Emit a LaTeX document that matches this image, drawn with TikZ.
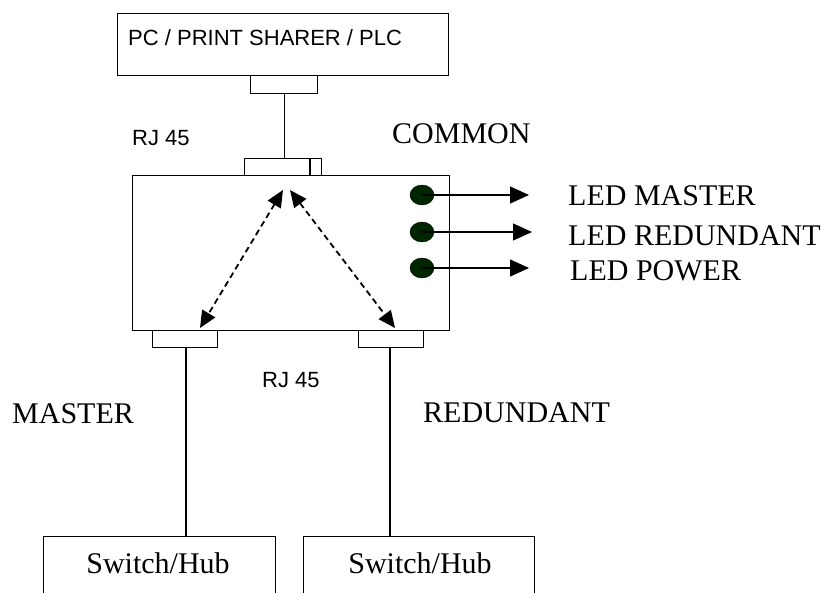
\documentclass[tikz,border=0pt]{standalone}
\usepackage{fontspec}
\setmainfont{Liberation Serif}
\newfontfamily\sansf{Liberation Sans}
\usetikzlibrary{arrows.meta,shapes.geometric}
\begin{document}
\begin{tikzpicture}[x=1pt,y=-1pt,
  box/.style={draw,line width=1.2pt,inner sep=0pt,anchor=north west},
  lbl/.style={inner sep=0pt,anchor=base west,font=\fontsize{30}{30}\selectfont},
  slbl/.style={inner sep=0pt,anchor=base west,font=\sansf\fontsize{22}{22}\selectfont},
  led/.style={ellipse,fill=black!85!green,draw=black,inner sep=0pt,minimum width=24pt,minimum height=20pt},
  ledarrow/.style={line width=1.2pt,-{Triangle[length=19pt,width=17pt]}},
  dasharrow/.style={line width=1.8pt,dash pattern=on 6pt off 4pt,{Triangle[length=17pt,width=15pt]}-{Triangle[length=17pt,width=15pt]}},
  wire/.style={line width=1.2pt}]
\useasboundingbox (0,0) rectangle (829,592);
\clip (0,0) rectangle (829,592);
\fill[white] (0,0) rectangle (829,592);
% top box
\node[box,minimum width=331pt,minimum height=62pt] (pc) at (117,13) {};
\node[slbl] (pctext) at (128,45) {PC / PRINT SHARER / PLC};
\node[box,minimum width=67pt,minimum height=18pt] (pcport) at (250,75) {};
% main box
\node[box,minimum width=317pt,minimum height=155pt] (main) at (132,175) {};
\node[box,minimum width=77pt,minimum height=17pt] (topport) at (244,158) {};
\draw[wire] (310,158) -- (310,175);
\draw[wire] (pcport.south) -- (topport.north -| pcport.south);
\node[slbl] (rj1) at (132,145) {RJ 45};
\node[lbl] (common) at (392,143) {COMMON};
% LEDs
\node[led] (l1) at (422,195) {};
\node[led] (l2) at (422,232) {};
\node[led] (l3) at (422,268) {};
\coordinate (t1) at (529,195);
\coordinate (t2) at (532,232);
\coordinate (t3) at (529,268);
\draw[ledarrow] (l1.center) -- (t1);
\draw[ledarrow] (l2.center) -- (t2);
\draw[ledarrow] (l3.center) -- (t3);
\node[lbl] (lm) at (568,205) {LED MASTER};
\node[lbl] (lr) at (568,245) {LED REDUNDANT};
\node[lbl] (lp) at (570,280) {LED POWER};
% bottom ports
\node[box,minimum width=65pt,minimum height=17pt] (pm) at (152,330) {};
\node[box,minimum width=65pt,minimum height=17pt] (pr) at (358,330) {};
\coordinate (apl) at (283,190);
\coordinate (apr) at (290,190);
\coordinate (bl) at (200,328);
\coordinate (br) at (395,328);
\draw[dasharrow] (apl) -- (bl);
\draw[dasharrow] (apr) -- (br);
\node[slbl] (rj2) at (262,387) {RJ 45};
\node[lbl] (ms) at (12,423) {MASTER};
\node[lbl] (rd) at (423,422) {REDUNDANT};
% switches
\node[box,minimum width=232pt,minimum height=80pt] (sw1) at (43,536) {};
\node[box,minimum width=231pt,minimum height=80pt] (sw2) at (303,536) {};
\draw[wire] (186,347) -- (186,536);
\draw[wire] (390,347) -- (390,536);
\node[lbl,anchor=base] (s1) at (158,573) {Switch/Hub};
\node[lbl,anchor=base] (s2) at (420,573) {Switch/Hub};
\end{tikzpicture}
\end{document}
